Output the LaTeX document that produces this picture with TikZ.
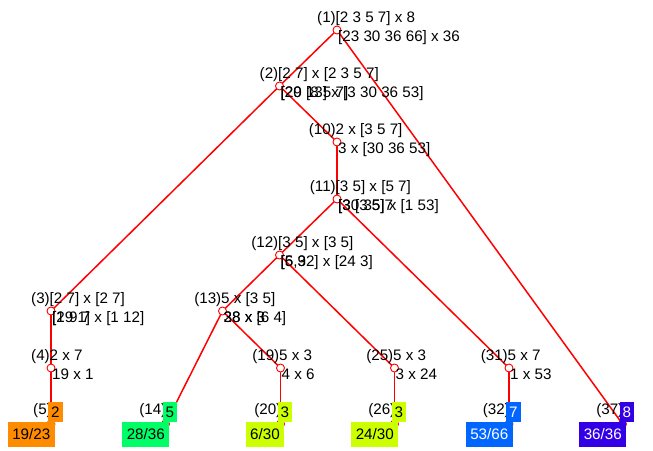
\documentclass[tikz,border=0pt]{standalone}
\usepackage{fontspec}
\setmainfont{Liberation Sans}
\definecolor{corange}{RGB}{255,140,0}
\definecolor{cgreen}{RGB}{0,255,102}
\definecolor{cyel}{RGB}{204,255,0}
\definecolor{cblue}{RGB}{0,102,255}
\definecolor{cviolet}{RGB}{51,0,230}
\tikzset{
  edgeline/.style={draw=red, line width=1.5pt},
  mk/.style={circle, draw=red, line width=0.9pt, fill=white, minimum size=8pt, inner sep=0pt},
  lbl/.style={inner sep=0pt, font=\fontsize{15.2}{18}\selectfont},
  topbox/.style={lbl, anchor=west, minimum height=20pt, inner xsep=3pt},
  botbox/.style={lbl, anchor=east, minimum height=25pt, inner xsep=4.5pt}
}
\newcommand\inlab[5]{%
  \node[lbl, anchor=mid east] (p#2) at ([xshift=-1pt,yshift=10pt]#1) {(#2)};
  \node[lbl, anchor=mid west] (a#2) at ([xshift=-1.5pt,yshift=10pt]#1) {#3};
  \node[lbl, anchor=mid west] (b#2) at ([xshift=1pt,yshift=-9pt]#1) {#4};
  \node[lbl, anchor=mid west] (c#2) at ([xshift=1pt,yshift=-9pt]#1) {#5};
}
\newcommand\leaflab[6]{%
  \node[lbl, anchor=mid east] (p#2) at ([xshift=1pt,yshift=12pt]#1) {(#2)};
  \node[topbox, fill=#5, text=#6] (t#2) at ([xshift=-3pt,yshift=12pt]#1) {#3};
  \node[botbox, fill=#5, text=#6] (v#2) at ([xshift=4pt,yshift=-10pt]#1) {#4};
}
\begin{document}
\begin{tikzpicture}[x=1pt,y=-1pt]
\useasboundingbox (0,0) rectangle (653,450);
% node positions
\coordinate (n1) at (337,30);
\coordinate (n2) at (279.5,86);
\coordinate (n10) at (337,142);
\coordinate (n11) at (337,199);
\coordinate (n12) at (279.5,255);
\coordinate (n3) at (51,311);
\coordinate (n13) at (222.5,311);
\coordinate (n4) at (51,368);
\coordinate (n19) at (280.5,368);
\coordinate (n25) at (394.5,368);
\coordinate (n31) at (509,368);
\coordinate (n5) at (51,424);
\coordinate (n14) at (165.5,424);
\coordinate (n20) at (280.5,424);
\coordinate (n26) at (394.5,424);
\coordinate (n32) at (509,424);
\coordinate (n37) at (622.5,424);
% edges
\draw[edgeline] (n1) -- (n2);
\draw[edgeline] (n1) -- (n37);
\draw[edgeline] (n2) -- (n3);
\draw[edgeline] (n2) -- (n10);
\draw[edgeline] (n10) -- (n11);
\draw[edgeline] (n11) -- (n12);
\draw[edgeline] (n11) -- (n31);
\draw[edgeline] (n12) -- (n13);
\draw[edgeline] (n12) -- (n25);
\draw[edgeline] (n13) -- (n14);
\draw[edgeline] (n13) -- (n19);
\draw[edgeline] (n3) -- (n4);
\draw[edgeline] (n4) -- (n5);
\draw[edgeline] (n19) -- (n20);
\draw[edgeline] (n25) -- (n26);
\draw[edgeline] (n31) -- (n32);
% markers
\foreach \n in {n1,n2,n10,n11,n12,n3,n13,n4,n19,n25,n31,n5,n14,n20,n26,n32,n37}
  \node[mk] at (\n) {};
% interior labels
\inlab{n1}{1}{[2 3 5 7] x 8}{[23 30 36 66] x 36}{}
\inlab{n2}{2}{[2 7] x [2 3 5 7]}{[20 13] x [3 30 36 53]}{[29 [8 5 7]}
\inlab{n10}{10}{2 x [3 5 7]}{3 x [30 36 53]}{}
\inlab{n11}{11}{[3 5] x [5 7]}{[30 35] x [1 53]}{[3 [3 5]7}
\inlab{n12}{12}{[3 5] x [3 5]}{[6 32] x [24 3]}{[5,9}
\inlab{n3}{3}{[2 7] x [2 7]}{[19 1] x [1 12]}{[2 9 7}
\inlab{n13}{13}{5 x [3 5]}{28 x [6 4]}{38 x 3}
\inlab{n4}{4}{2 x 7}{19 x 1}{}
\inlab{n19}{19}{5 x 3}{4 x 6}{}
\inlab{n25}{25}{5 x 3}{3 x 24}{}
\inlab{n31}{31}{5 x 7}{1 x 53}{}
% leaves
\leaflab{n5}{5}{2}{19/23}{corange}{black}
\leaflab{n14}{14}{5}{28/36}{cgreen}{black}
\leaflab{n20}{20}{3}{6/30}{cyel}{black}
\leaflab{n26}{26}{3}{24/30}{cyel}{black}
\leaflab{n32}{32}{7}{53/66}{cblue}{white}
\leaflab{n37}{37}{8}{36/36}{cviolet}{white}
\end{tikzpicture}
\end{document}
